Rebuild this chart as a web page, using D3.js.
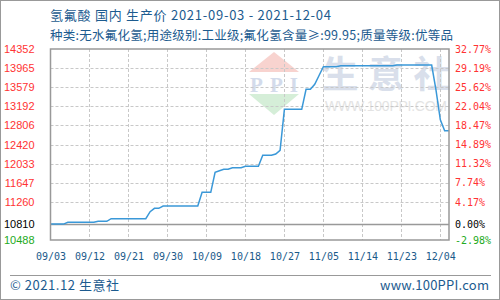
<!DOCTYPE html>
<html>
<head>
<meta charset="utf-8">
<script src="https://cdn.jsdelivr.net/npm/d3@7"></script>
<style>
  body { margin: 0; background: #fff; }
  svg { display: block; }
</style>
</head>
<body>
<svg id="chart" width="500" height="300"></svg>
<script>

// daily price, 2021-09-03 .. 2021-12-04 (day index 0..92)
var prices = [
  10810, 10810, 10810, 10810,
  10846, 10846, 10846, 10846, 10846, 10846, 10846,
  10866, 10866, 10866,
  10919, 10919, 10919, 10919, 10919, 10919, 10919, 10919, 10919,
  11060,
  11129, 11129,
  11176, 11176, 11176, 11176, 11176, 11176, 11176, 11176, 11176,
  11453, 11453, 11453,
  11858, 11890, 11918, 11918,
  11951, 11951, 11951,
  11979, 11979, 11979, 11979,
  12201, 12201, 12201,
  12228, 12302,
  13132, 13132, 13132, 13132, 13132,
  13537, 13537, 13638, 13816,
  13994, 13994, 13994, 13994,
  14014, 14014, 14014, 14014, 14014, 14014, 14014, 14014, 14014, 14014, 14014, 14014, 14014,
  14028, 14028, 14028, 14028, 14028, 14028, 14028, 14028, 14028,
  13520, 12920, 12700, 12700
];

var yTicks = [14352, 13965, 13579, 13192, 12806, 12420, 12033, 11647, 11260, 10810, 10488];
var pctLabels = ["32.77%", "29.19%", "25.62%", "22.04%", "18.47%", "14.89%", "11.32%", "7.74%", "4.17%", "0.00%", "-2.98%"];
var baseValue = 10810;

var xTickDays = [0, 9, 18, 27, 36, 45, 54, 63, 72, 81, 90];
var xTickLabels = ["09/03", "09/12", "09/21", "09/30", "10/09", "10/18", "10/27", "11/05", "11/14", "11/23", "12/04"];

var titleText = "氢氟酸 国内 生产价 2021-09-03 - 2021-12-04";
var subText = "种类:无水氟化氢;用途级别:工业级;氟化氢含量≥:99.95;质量等级:优等品";

var svg = d3.select("#chart");

// plot box (don't call these top/left: window.top is read only)
var plotL = 50.5, plotR = 449, plotT = 49, plotB = 240;

var x = d3.scaleLinear().domain([0, prices.length - 1]).range([plotL, plotR]);
var y = d3.scaleLinear().domain([10488, 14352]).range([plotB, plotT]);

function labelColor(v){
  if(v == baseValue) return "#000";
  if(v < baseValue) return "#22aa22";
  return "#ff3333";
}

// outer frame + footer rule
svg.append("rect")
    .attr("x", 0.5).attr("y", 0.5).attr("width", 499).attr("height", 299)
    .attr("fill", "none").attr("stroke", "#999");
svg.append("line")
    .attr("x1", 10).attr("x2", 491).attr("y1", 275.5).attr("y2", 275.5)
    .attr("stroke", "#999");

// watermark
var wm = svg.append("g").attr("id", "watermark");
wm.append("path")
    .attr("d", "M274,52 L299,72 L249,72 Z")
    .attr("fill", "#f8d3cf");
wm.append("text")
    .attr("x", 274).attr("y", 92)
    .attr("text-anchor", "middle")
    .attr("font-family", "Liberation Serif")
    .attr("font-weight", "bold")
    .attr("font-size", 21)
    .attr("textLength", 48)
    .attr("fill", "#d3dbeb")
    .text("PPI");
wm.append("path")
    .attr("d", "M249,94 L299,94 L274,115 Z")
    .attr("fill", "#d5eed8");
wm.selectAll("text.big")
    .data(["生", "意", "社"])
    .enter()
    .append("text")
    .attr("class", "big")
    .attr("x", (d, i) => 340 + i * 46)
    .attr("y", 88)
    .attr("text-anchor", "middle")
    .attr("font-family", "Noto Sans CJK SC")
    .attr("font-weight", "bold")
    .attr("font-size", 37)
    .attr("fill", "#d9dfeb")
    .text(d => d);
wm.append("text")
    .attr("x", 325).attr("y", 111)
    .attr("font-family", "Liberation Sans")
    .attr("font-size", 14)
    .attr("textLength", 122)
    .attr("fill", "#e3e3e3")
    .text("WWW.100PPI.COM");

// grid
var grid = svg.append("g").attr("id", "grid");
grid.selectAll("line.h")
    .data(yTicks.filter(v => v != 14352 && v != 10488 && v != baseValue))
    .enter()
    .append("line")
    .attr("class", "h")
    .attr("x1", plotL).attr("x2", plotR)
    .attr("y1", d => Math.round(y(d)) + 0.5)
    .attr("y2", d => Math.round(y(d)) + 0.5)
    .attr("stroke", "#c8c8c8")
    .attr("stroke-dasharray", "3,2");
grid.selectAll("line.v")
    .data(xTickDays.filter(d => d > 0))
    .enter()
    .append("line")
    .attr("class", "v")
    .attr("y1", plotT).attr("y2", plotB)
    .attr("x1", d => Math.round(x(d)) + 0.5)
    .attr("x2", d => Math.round(x(d)) + 0.5)
    .attr("stroke", "#c8c8c8")
    .attr("stroke-dasharray", "3,2");

// base (0%) line
svg.append("line")
    .attr("x1", plotL).attr("x2", plotR)
    .attr("y1", Math.round(y(baseValue)) + 0.5)
    .attr("y2", Math.round(y(baseValue)) + 0.5)
    .attr("stroke", "#999").attr("stroke-width", 1.5);

// price line
var line = d3.line()
    .x((d, i) => x(i))
    .y(d => y(d));
svg.append("path")
    .datum(prices)
    .attr("d", line)
    .attr("fill", "none")
    .attr("stroke", "#3a98d8")
    .attr("stroke-width", 1.5);

// plot frame
svg.append("rect")
    .attr("x", plotL).attr("y", plotT)
    .attr("width", plotR - plotL).attr("height", plotB - plotT)
    .attr("fill", "none")
    .attr("stroke", "#999")
    .attr("stroke-width", 1.5);

// axes
var yLeft = svg.append("g")
    .attr("transform", `translate(${plotL},0)`)
    .call(d3.axisLeft(y).tickValues(yTicks).tickSize(0).tickPadding(16)
      .tickFormat(d3.format("d")));
yLeft.select(".domain").remove();
yLeft.selectAll("text")
    .attr("font-family", "Liberation Sans")
    .attr("font-size", 11)
    .attr("fill", d => labelColor(d));

var yRight = svg.append("g")
    .attr("transform", `translate(${plotR},0)`)
    .call(d3.axisRight(y).tickValues(yTicks).tickSize(0).tickPadding(6)
      .tickFormat((d, i) => pctLabels[i]));
yRight.select(".domain").remove();
yRight.selectAll("text")
    .attr("font-family", "DejaVu Sans Mono")
    .attr("font-size", 10)
    .attr("fill", d => labelColor(d));

var xAxis = svg.append("g")
    .attr("transform", `translate(0,${plotB})`)
    .call(d3.axisBottom(x).tickValues(xTickDays).tickSize(0).tickPadding(13)
      .tickFormat((d, i) => xTickLabels[i]));
xAxis.select(".domain").remove();
xAxis.selectAll("text")
    .attr("font-family", "DejaVu Sans Mono")
    .attr("font-size", 10)
    .attr("fill", "#1a5a8a");

// titles
svg.append("text")
    .attr("x", 50).attr("y", 20)
    .attr("font-family", "Noto Sans CJK SC")
    .attr("font-size", 13)
    .attr("textLength", 281)
    .attr("fill", "#1c5b8f")
    .text(titleText);
svg.append("text")
    .attr("x", 50).attr("y", 39.5)
    .attr("font-family", "Noto Sans CJK SC")
    .attr("font-size", 12.5)
    .attr("textLength", 403)
    .attr("fill", "#1c5b8f")
    .text(subText);

// footer
svg.append("text")
    .attr("x", 10).attr("y", 290)
    .attr("font-family", "Noto Sans CJK SC")
    .attr("font-size", 13)
    .attr("textLength", 109)
    .attr("fill", "#1c5b8f")
    .text("© 2021.12 生意社");
svg.append("text")
    .attr("x", 489).attr("y", 290)
    .attr("text-anchor", "end")
    .attr("font-family", "Noto Sans CJK SC")
    .attr("font-size", 13)
    .attr("textLength", 109)
    .attr("fill", "#1c5b8f")
    .text("www.100PPI.com");

</script>
</body>
</html>
